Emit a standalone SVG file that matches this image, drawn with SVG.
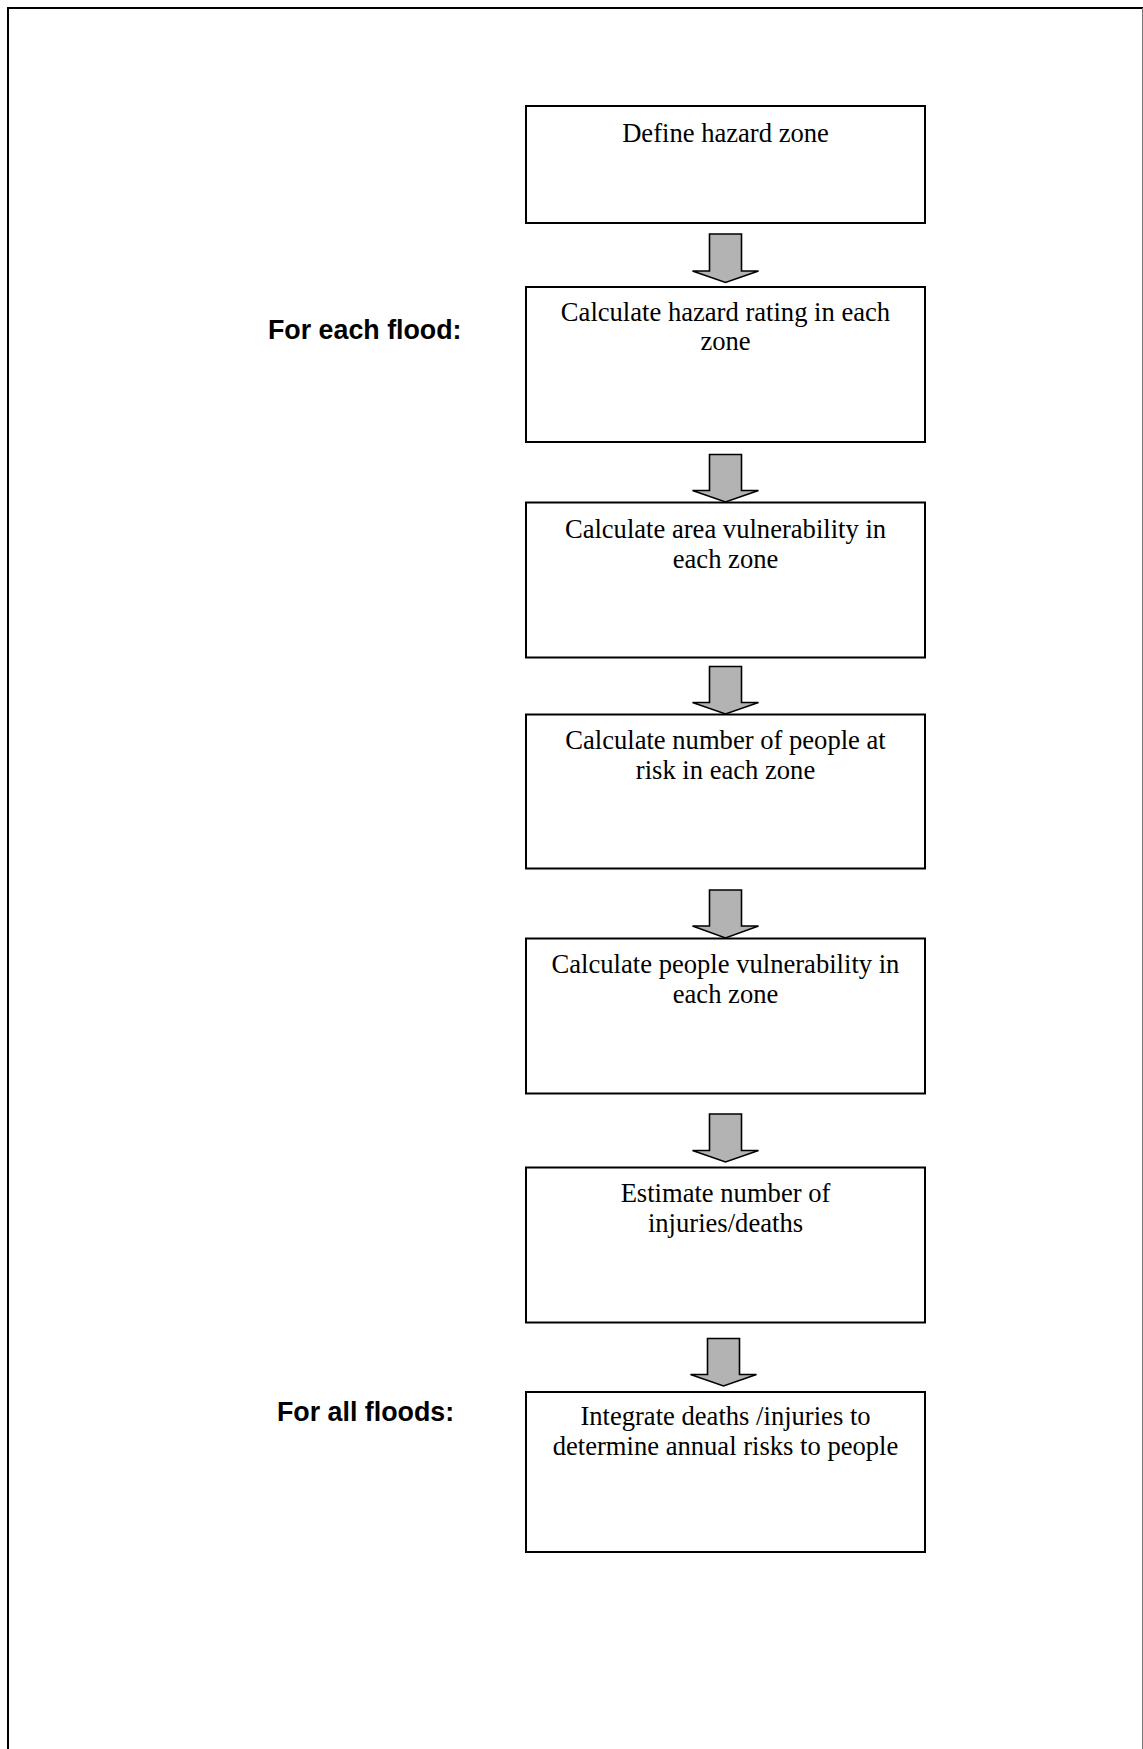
<svg xmlns="http://www.w3.org/2000/svg" width="1143" height="1749" viewBox="0 0 1143 1749">
<style>
.box{fill:#fff;stroke:#000;stroke-width:2}
.t{font-family:"Liberation Serif","Times New Roman",serif;font-size:26.6px;fill:#000;text-anchor:middle}
.lab{font-family:"Liberation Sans",Arial,sans-serif;font-size:26.8px;font-weight:bold;fill:#000}
.arr{fill:#b3b3b3;stroke:#000;stroke-width:1.6;stroke-linejoin:miter}
</style>
<rect width="1143" height="1749" fill="#fff"/>
<g id="frame">
<line x1="7" y1="8" x2="1143" y2="8" stroke="#000" stroke-width="2"/>
<line x1="8" y1="7" x2="8" y2="1749" stroke="#000" stroke-width="2"/>
<line x1="1142.5" y1="8" x2="1142.5" y2="1749" stroke="#777" stroke-width="1"/>
</g>
<g id="labels">
<text class="lab" x="268" y="339">For each flood:</text>
<text class="lab" x="277" y="1421">For all floods:</text>
</g>
<g id="connectors">
<path class="arr" d="M709.5,234 H741.5 V271 H758.5 L725.5,282.5 L692.5,271 H709.5 Z"/>
<path class="arr" d="M709.5,454.5 H741.5 V490.5 H758.5 L725.5,502 L692.5,490.5 H709.5 Z"/>
<path class="arr" d="M709.5,666.5 H741.5 V702.5 H758.5 L725.5,714 L692.5,702.5 H709.5 Z"/>
<path class="arr" d="M709.5,890 H741.5 V926 H758.5 L725.5,938 L692.5,926 H709.5 Z"/>
<path class="arr" d="M709.5,1114 H741.5 V1150.5 H758.5 L725.5,1162 L692.5,1150.5 H709.5 Z"/>
<path class="arr" d="M707.5,1338.5 H739.5 V1374.5 H756.5 L723.5,1386 L690.5,1374.5 H707.5 Z"/>
</g>
<g id="n1">
<rect class="box" x="526" y="106" width="399" height="117"/>
<text class="t" x="725.5" y="141.5">Define hazard zone</text>
</g>
<g id="n2">
<rect class="box" x="526" y="287" width="399" height="155"/>
<text class="t" x="725.5" y="321">Calculate hazard rating in each</text>
<text class="t" x="725.5" y="350">zone</text>
</g>
<g id="n3">
<rect class="box" x="526" y="502.5" width="399" height="155"/>
<text class="t" x="725.5" y="537.5">Calculate area vulnerability in</text>
<text class="t" x="725.5" y="567.5">each zone</text>
</g>
<g id="n4">
<rect class="box" x="526" y="714.5" width="399" height="154"/>
<text class="t" x="725.5" y="748.5">Calculate number of people at</text>
<text class="t" x="725.5" y="779">risk in each zone</text>
</g>
<g id="n5">
<rect class="box" x="526" y="938.5" width="399" height="155"/>
<text class="t" x="725.5" y="972.5">Calculate people vulnerability in</text>
<text class="t" x="725.5" y="1003">each zone</text>
</g>
<g id="n6">
<rect class="box" x="526" y="1167.5" width="399" height="155"/>
<text class="t" x="725.5" y="1201.5">Estimate number of</text>
<text class="t" x="725.5" y="1231.5">injuries/deaths</text>
</g>
<g id="n7">
<rect class="box" x="526" y="1392" width="399" height="160"/>
<text class="t" x="725.5" y="1425">Integrate deaths /injuries to</text>
<text class="t" x="725.5" y="1455">determine annual risks to people</text>
</g>
</svg>
